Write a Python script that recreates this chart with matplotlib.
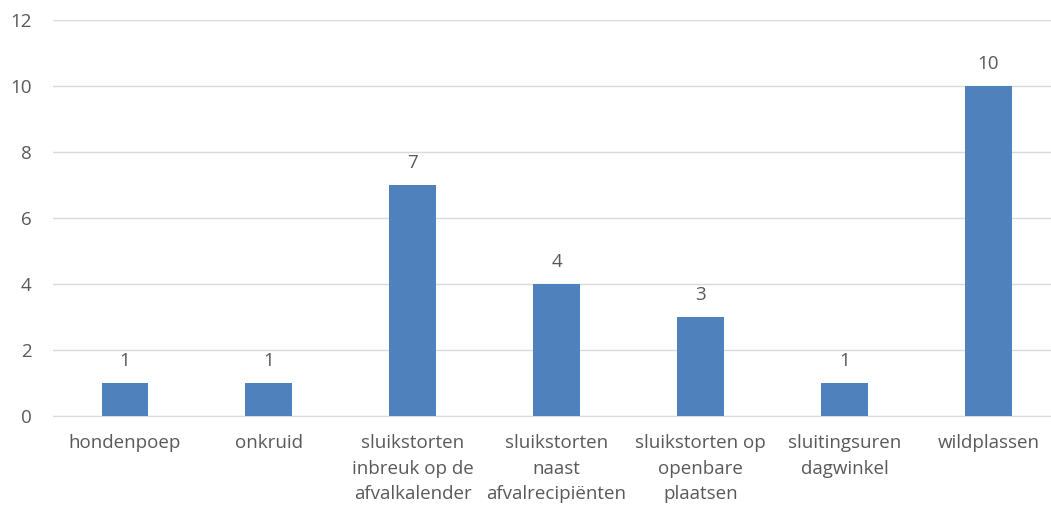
import matplotlib
matplotlib.use("Agg")
import matplotlib.pyplot as plt

categories = [
    "hondenpoep",
    "onkruid",
    "sluikstorten\ninbreuk op de\nafvalkalender",
    "sluikstorten\nnaast\nafvalrecipiënten",
    "sluikstorten op\nopenbare\nplaatsen",
    "sluitingsuren\ndagwinkel",
    "wildplassen",
]
values = [1, 1, 7, 4, 3, 1, 10]
yticks = [0, 2, 4, 6, 8, 10, 12]

plt.rcParams["font.family"] = ["Open Sans", "DejaVu Sans"]
TXT = "#595959"
FS = 13.5

fig = plt.figure(figsize=(10.51, 5.09), dpi=100)
ax = fig.add_axes([0.050, 0.183, 0.959, 0.778])

x = range(len(categories))
bars = ax.bar(x, values, width=0.32, color="#4F81BD", zorder=3)
for b, v in zip(bars, values):
    ax.text(b.get_x() + b.get_width() / 2, v + 0.38, str(v),
            ha="center", va="bottom", fontsize=FS, color=TXT)

ax.set_xlim(-0.5, len(categories) - 0.5)
ax.set_ylim(0, 12)
ax.set_yticks(yticks)
ax.set_xticks(list(x))
ax.set_xticklabels(categories, fontsize=FS, color=TXT, linespacing=1.55, va="top")
ax.tick_params(axis="y", labelsize=FS, labelcolor=TXT, length=0, pad=15)
ax.tick_params(axis="x", length=0, pad=13)
ax.grid(axis="y", color="#D9D9D9", linewidth=1, zorder=0)
for s in ["top", "right", "left"]:
    ax.spines[s].set_visible(False)
ax.spines["bottom"].set_color("#D9D9D9")

fig.savefig("out.png", dpi=100)
